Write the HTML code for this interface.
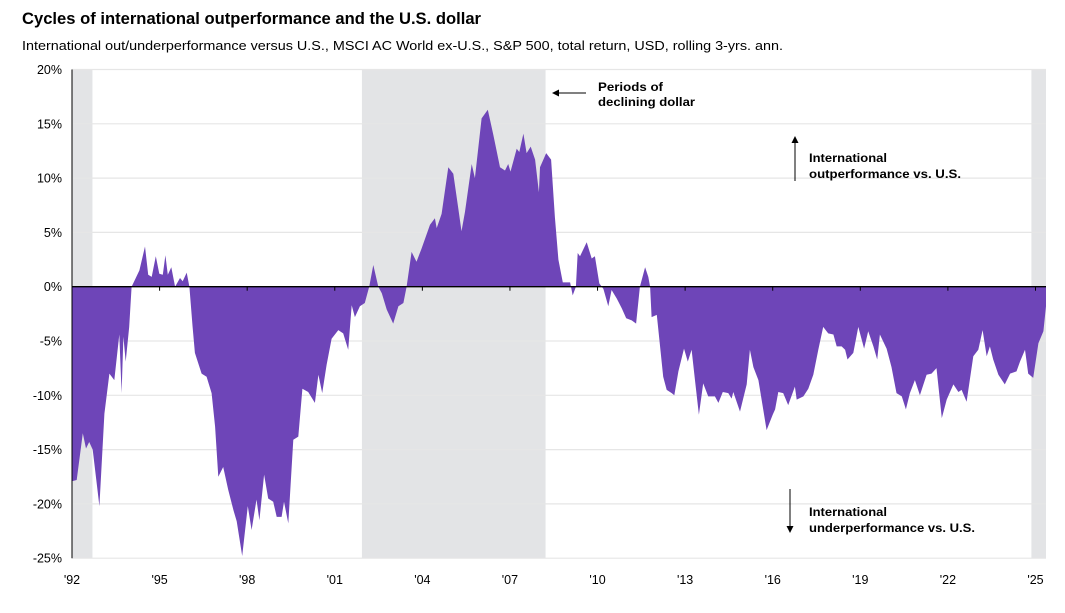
<!DOCTYPE html>
<html><head><meta charset="utf-8"><style>
body{margin:0;background:#fff;font-family:"Liberation Sans",Arial,sans-serif}
svg text{font-family:"Liberation Sans",Arial,sans-serif}
</style></head><body>
<svg id="chart" width="1065" height="608" viewBox="0 0 1065 608">
<text x="22" y="24" font-size="16.5" font-weight="bold" fill="#000" textLength="459" lengthAdjust="spacingAndGlyphs">Cycles of international outperformance and the U.S. dollar</text>
<text x="22" y="50" font-size="13.3" fill="#000" textLength="761" lengthAdjust="spacingAndGlyphs">International out/underperformance versus U.S., MSCI AC World ex-U.S., S&amp;P 500, total return, USD, rolling 3-yrs. ann.</text>
<g id="bands"></g><g id="grid"></g><g id="area"></g><g id="axes"></g>
<g>
<line x1="586" y1="93" x2="556" y2="93" stroke="#000" stroke-width="1"/>
<polygon points="552,93 559,89.5 559,96.5" fill="#000"/>
<text x="598" y="91" font-size="12" font-weight="bold" textLength="65" lengthAdjust="spacingAndGlyphs">Periods of</text>
<text x="598" y="106" font-size="12" font-weight="bold" textLength="97" lengthAdjust="spacingAndGlyphs">declining dollar</text>
</g>
<g>
<line x1="795" y1="181" x2="795" y2="141" stroke="#000" stroke-width="1"/>
<polygon points="795,136 791.5,143 798.5,143" fill="#000"/>
<text x="809" y="162" font-size="12" font-weight="bold" textLength="78" lengthAdjust="spacingAndGlyphs">International</text>
<text x="809" y="178" font-size="12" font-weight="bold" textLength="152" lengthAdjust="spacingAndGlyphs">outperformance vs. U.S.</text>
</g>
<g>
<line x1="790" y1="489" x2="790" y2="528" stroke="#000" stroke-width="1"/>
<polygon points="790,533 786.5,526 793.5,526" fill="#000"/>
<text x="809" y="516" font-size="12" font-weight="bold" textLength="78" lengthAdjust="spacingAndGlyphs">International</text>
<text x="809" y="532" font-size="12" font-weight="bold" textLength="166" lengthAdjust="spacingAndGlyphs">underperformance vs. U.S.</text>
</g>
</svg>
<script>
const dates=[1992.01,1992.16,1992.37,1992.48,1992.59,1992.71,1992.94,1993.11,1993.28,1993.45,1993.62,1993.70,1993.76,1993.84,1993.96,1994.04,1994.31,1994.50,1994.61,1994.73,1994.87,1994.99,1995.11,1995.20,1995.28,1995.40,1995.53,1995.70,1995.79,1995.93,1996.02,1996.13,1996.21,1996.44,1996.61,1996.78,1996.90,1997.01,1997.18,1997.35,1997.53,1997.64,1997.83,1998.02,1998.15,1998.32,1998.42,1998.58,1998.72,1998.89,1999.01,1999.18,1999.26,1999.41,1999.58,1999.75,1999.89,2000.09,2000.32,2000.44,2000.57,2000.72,2000.89,2001.12,2001.29,2001.46,2001.58,2001.69,2001.86,2002.03,2002.18,2002.32,2002.49,2002.61,2002.78,2003.00,2003.18,2003.35,2003.46,2003.63,2003.80,2003.97,2004.26,2004.43,2004.49,2004.66,2004.89,2005.06,2005.23,2005.34,2005.46,2005.69,2005.80,2006.03,2006.24,2006.43,2006.66,2006.83,2006.94,2007.02,2007.23,2007.32,2007.46,2007.57,2007.71,2007.86,2007.99,
2008.03,2008.24,2008.41,2008.54,2008.66,2008.81,2009.06,2009.15,2009.26,2009.32,2009.40,2009.63,2009.80,2009.91,2010.06,2010.20,2010.37,2010.48,2010.66,2010.83,2010.98,2011.17,2011.32,2011.45,2011.63,2011.74,2011.80,2011.85,2012.03,2012.12,2012.25,2012.37,2012.54,2012.63,2012.77,2012.96,2013.09,2013.22,2013.34,2013.47,2013.62,2013.79,2014.02,2014.14,2014.29,2014.48,2014.59,2014.65,2014.88,2015.11,2015.22,2015.34,2015.51,2015.79,2016.00,2016.08,2016.19,2016.36,2016.53,2016.76,2016.82,2017.05,2017.22,2017.39,2017.56,2017.73,2017.90,2018.08,2018.19,2018.36,2018.48,2018.56,2018.76,2018.93,2019.13,2019.27,2019.45,2019.58,2019.67,2019.90,2020.07,2020.24,2020.42,2020.56,2020.70,2020.87,2021.04,2021.27,2021.44,2021.61,2021.79,2021.96,2022.19,2022.36,2022.47,2022.64,2022.87,2023.04,2023.19,2023.33,2023.44,2023.55,2023.73,2023.95,2024.13,2024.35,2024.47,2024.64,2024.75,2024.92,2025.10,2025.27,2025.36];
const values=[-17.9,-17.8,-13.5,-14.9,-14.3,-15.0,-20.2,-11.7,-8.0,-8.6,-4.4,-9.8,-4.6,-6.9,-3.7,0,1.5,3.7,1.1,0.9,2.8,1.2,1.1,2.9,1.1,1.8,0,0.8,0.5,1.3,0,-3.7,-6.1,-8.0,-8.3,-9.8,-12.9,-17.5,-16.6,-18.7,-20.6,-21.6,-24.8,-20.2,-22.4,-19.6,-21.5,-17.3,-19.5,-19.8,-21.2,-21.2,-19.8,-21.8,-14.1,-13.8,-9.4,-9.7,-10.7,-8.1,-9.8,-7.2,-4.8,-4.0,-4.3,-5.8,-1.7,-2.8,-1.8,-1.5,0,2.0,0,-0.6,-2.1,-3.4,-1.8,-1.5,0,3.2,2.3,3.5,5.7,6.3,5.4,6.7,11.0,10.4,7.2,5.1,6.9,11.3,10.0,15.5,16.3,14.0,11.0,10.7,11.3,10.6,12.7,12.4,14.1,12.3,12.9,11.7,8.7,
11.0,12.3,11.7,6.4,2.5,0.4,0.4,-0.8,0,3.1,2.8,4.1,2.6,2.8,0.3,-0.2,-1.8,-0.3,-1.1,-2.0,-2.9,-3.1,-3.4,0,1.8,0.9,0,-2.8,-2.6,-4.9,-8.3,-9.5,-9.8,-10.0,-7.8,-5.7,-6.9,-5.8,-8.7,-11.8,-8.9,-10.1,-10.1,-10.7,-9.7,-9.8,-10.3,-9.7,-11.5,-9.0,-5.8,-7.4,-8.6,-13.2,-11.8,-11.3,-9.7,-9.8,-10.9,-9.2,-10.4,-10.1,-9.4,-8.1,-5.8,-3.7,-4.3,-4.4,-5.5,-5.5,-5.8,-6.7,-6.1,-3.7,-5.7,-4.1,-5.5,-6.7,-4.4,-5.7,-7.4,-9.8,-10.1,-11.3,-9.8,-8.6,-10.0,-8.1,-8.0,-7.5,-12.1,-10.4,-9.0,-9.7,-9.5,-10.6,-6.4,-5.8,-4.0,-6.4,-5.5,-6.7,-8.1,-9.0,-8.0,-7.8,-6.9,-5.8,-8.0,-8.4,-5.2,-4.1,-1.8];
const bandStarts=[1992.0,2001.93,2024.86];
const bandEnds=[1992.7,2008.22,2025.4];
const yTicks=[20,15,10,5,0,-5,-10,-15,-20,-25];
const xTickYears=[1992,1995,1998,2001,2004,2007,2010,2013,2016,2019,2022,2025];
const xTickLabels=["'92","'95","'98","'01","'04","'07","'10","'13","'16","'19","'22","'25"];

const NS="http://www.w3.org/2000/svg";
const X0=72,X1=1046,YEAR0=1992,YEAR1=2025.36;
const xs=y=>X0+(y-YEAR0)*(X1-X0)/(YEAR1-YEAR0);
const ys=v=>286.7-v*10.86;
function mk(tag,attrs,parent){const e=document.createElementNS(NS,tag);for(const k in attrs)e.setAttribute(k,attrs[k]);parent.appendChild(e);return e;}
const bands=document.getElementById('bands'),grid=document.getElementById('grid'),area=document.getElementById('area'),axes=document.getElementById('axes');
bandStarts.forEach((s,i)=>{
 const r=mk('rect',{x:xs(s),y:ys(20),width:Math.min(xs(bandEnds[i]),X1)-xs(s),height:ys(-25)-ys(20),fill:'#e3e4e6'},bands);
 
 
});
yTicks.forEach(t=>{
 if(t!==0){const l=mk('line',{x1:X0,x2:X1,y1:ys(t),y2:ys(t),stroke:'#e6e6e6','stroke-width':1.2},grid);
 
 }
 const tx=mk('text',{x:62,y:ys(t)+4.5,'font-size':12.5,'text-anchor':'end',fill:'#000'},axes);
 tx.textContent=t+'%';
 
 
});
let d='M'+xs(dates[0])+','+ys(0);
dates.forEach((t,i)=>{d+=' L'+xs(t).toFixed(1)+','+ys(values[i]).toFixed(1);});
d+=' L'+xs(dates[dates.length-1])+','+ys(0)+' Z';
const p=mk('path',{d:d,fill:'#6e45b8'},area);


const za=mk('line',{x1:X0,x2:X1,y1:ys(0),y2:ys(0),stroke:'#000','stroke-width':1.3},axes);


const ya=mk('line',{x1:X0,x2:X0,y1:ys(20),y2:ys(-25),stroke:'#000','stroke-width':1},axes);


xTickYears.forEach((y,i)=>{
 const tk=mk('line',{x1:xs(y),x2:xs(y),y1:ys(0),y2:ys(0)+4,stroke:'#000','stroke-width':1},axes);
 
 
 const tx=mk('text',{x:xs(y),y:584,'font-size':12.5,'text-anchor':'middle',fill:'#000'},axes);
 tx.textContent=xTickLabels[i];
 
 
});
</script>
</body></html>
